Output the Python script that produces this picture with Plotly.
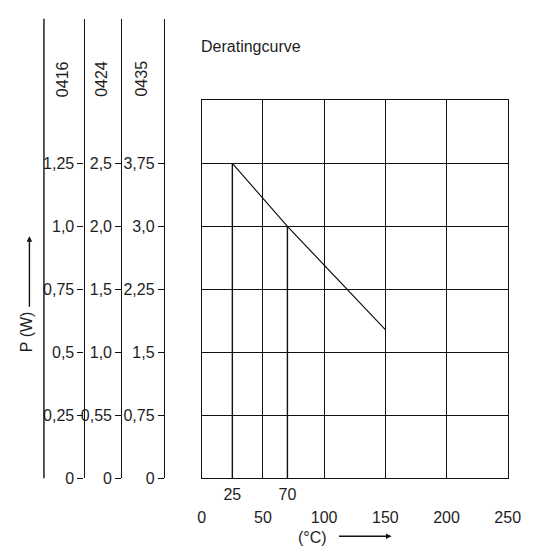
import plotly.graph_objects as go

# ---- data ----
temps = [25, 70, 150]
power_0416 = [1.25, 1.0, 0.59]

x_ticks = [0, 50, 100, 150, 200, 250]
x_ticks_extra = [25, 70]
y_ticks = [0, 0.25, 0.5, 0.75, 1.0, 1.25]
y_grid = [0, 0.25, 0.5, 0.75, 1.0, 1.25, 1.5]
labels_0416 = ["0", "0,25", "0,5", "0,75", "1,0", "1,25"]
labels_0424 = ["0", "0,55", "1,0", "1,5", "2,0", "2,5"]
labels_0435 = ["0", "0,75", "1,5", "2,25", "3,0", "3,75"]
series_names = ["0416", "0424", "0435"]

# ---- layout helpers ----
W, H = 534, 550
def px(x):
    return x / W
def py(y):
    return 1 - y / H

FONT = "Arial, Liberation Sans, sans-serif"
TXT = "#1e1e1e"
LINE = "#111111"
FS = 16
LW = 1.4

y_bot, y_top, y_ext = 478, 94, 11
main_dom = [py(y_bot), py(y_top)]
left_dom = [py(y_bot), py(y_ext)]
left_max = 1.5 * (left_dom[1] - left_dom[0]) / (main_dom[1] - main_dom[0])

fig = go.Figure()

# derating curve
fig.add_trace(go.Scatter(x=temps, y=power_0416, mode="lines",
                         line=dict(color=LINE, width=1.2),
                         xaxis="x", yaxis="y", hoverinfo="skip", showlegend=False))

# drop lines from the curve knees down to the x-axis
dx, dy = [], []
for t, p in zip(temps[:2], power_0416[:2]):
    dx += [t, t, None]
    dy += [0, p, None]
fig.add_trace(go.Scatter(x=dx, y=dy, mode="lines",
                         line=dict(color=LINE, width=LW),
                         xaxis="x2", yaxis="y", hoverinfo="skip", showlegend=False))

# empty traces for the three left scales
for ax in ["y2", "y3", "y4"]:
    fig.add_trace(go.Scatter(x=[None], y=[None], xaxis="x3", yaxis=ax,
                             hoverinfo="skip", showlegend=False))

left_axis_common = dict(
    anchor="free", domain=left_dom, range=[0, left_max],
    tickvals=y_ticks, ticks="outside", ticklen=6, tickwidth=1.2, tickcolor=LINE,
    showline=True, linecolor=LINE, linewidth=LW, showgrid=False, zeroline=False,
    tickfont=dict(family=FONT, size=FS, color=TXT), ticklabelstandoff=0,
)

fig.update_layout(
    width=W, height=H,
    margin=dict(l=0, r=0, t=0, b=0),
    paper_bgcolor="white", plot_bgcolor="rgba(0,0,0,0)",
    showlegend=False,
    xaxis=dict(domain=[px(196), px(512)], range=[0, 250], anchor="y",
               tickvals=x_ticks, ticktext=[str(v) for v in x_ticks],
               ticks="outside", ticklen=24, tickcolor="rgba(0,0,0,0)",
               showgrid=True, gridcolor=LINE, gridwidth=LW,
               showline=True, mirror=True, linecolor=LINE, linewidth=LW,
               zeroline=False, tickfont=dict(family=FONT, size=FS, color=TXT)),
    xaxis2=dict(overlaying="x", anchor="y", side="bottom", range=[0, 250],
                tickvals=x_ticks_extra, ticktext=[str(v) for v in x_ticks_extra],
                ticks="outside", ticklen=2, tickcolor="rgba(0,0,0,0)",
                showgrid=False, showline=False, zeroline=False,
                tickfont=dict(family=FONT, size=FS, color=TXT)),
    xaxis3=dict(domain=[0, 0.3], range=[0, 1], visible=False, anchor="y2"),
    yaxis=dict(domain=main_dom, range=[0, 1.5], anchor="x",
               tickvals=y_grid, showticklabels=False, ticks="",
               showgrid=True, gridcolor=LINE, gridwidth=LW,
               showline=True, mirror=True, linecolor=LINE, linewidth=LW,
               zeroline=False),
    yaxis2=dict(position=px(74), ticktext=labels_0416, **left_axis_common),
    yaxis3=dict(position=px(113), ticktext=labels_0424, **left_axis_common),
    yaxis4=dict(position=px(157), ticktext=labels_0435, **left_axis_common),
)

# separator line at far left
fig.add_shape(type="line", xref="paper", yref="paper",
              x0=px(33), x1=px(33), y0=py(11), y1=py(478),
              line=dict(color=LINE, width=LW))

ann_font = dict(family=FONT, size=FS, color=TXT)
for name, xc in zip(series_names, [53, 93, 134]):
    fig.add_annotation(text=name, x=px(xc), y=py(72), xref="paper", yref="paper",
                       textangle=-90, showarrow=False, font=ann_font,
                       xanchor="center", yanchor="middle")

fig.add_annotation(text="Deratingcurve", x=px(193), y=py(39), xref="paper", yref="paper",
                   showarrow=False, xanchor="left", yanchor="middle", font=ann_font)

fig.add_annotation(text="P (W)", x=px(15), y=py(329), xref="paper", yref="paper",
                   textangle=-90, showarrow=False, font=ann_font,
                   xanchor="center", yanchor="middle")
fig.add_annotation(text="", x=px(18), y=py(232), xref="paper", yref="paper",
                   ax=0, ay=72, axref="pixel", ayref="pixel", showarrow=True,
                   arrowhead=2, arrowsize=0.8, arrowwidth=1.4, arrowcolor=LINE)

fig.add_annotation(text="(°C)", x=px(310), y=py(538), xref="paper", yref="paper",
                   showarrow=False, font=ann_font, xanchor="center", yanchor="middle")
fig.add_annotation(text="", x=px(392), y=py(537), xref="paper", yref="paper",
                   ax=-54, ay=0, axref="pixel", ayref="pixel", showarrow=True,
                   arrowhead=2, arrowsize=0.8, arrowwidth=1.4, arrowcolor=LINE)

fig.write_html("out.html")
